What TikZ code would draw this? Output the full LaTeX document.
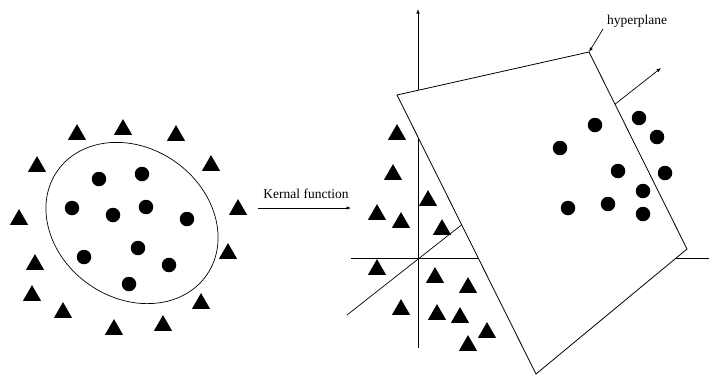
\documentclass[tikz,border=0pt]{standalone}
\usepackage{fontspec}
\setmainfont{Liberation Serif}
\usepackage{tikz}
\usetikzlibrary{arrows.meta,positioning,shapes.geometric}

\begin{document}
\begin{tikzpicture}[
  x=1pt,y=-1pt,
  dot/.style={circle,fill=black,inner sep=0pt,minimum size=14.5pt},
  tri/.style={regular polygon,regular polygon sides=3,fill=black,
              inner sep=0pt,minimum size=21pt,yshift=-2.6pt},
  lbl/.style={inner sep=1pt,font=\fontsize{13.5}{15}\selectfont},
  flow/.style={-{Latex[length=4.5pt,width=3.5pt]},line width=0.7pt},
  axis/.style={line width=0.8pt}
]
\useasboundingbox (0,0) rectangle (709,376);

% input space
\node[draw,ellipse,line width=0.7pt,minimum width=182pt,minimum height=150pt,
      rotate=-35] (blob) at (132,223) {};
\foreach \x/\y [count=\i] in {99/179,142/174,72/208,113/215,146/207,
    187/219,138/248,84/257,169/265,129/284}
  \node[dot] (ldot\i) at (\x,\y) {};
\foreach \x/\y [count=\i] in {77/132,123/127,176/133,37/164,211/163,
    19/217,238/207,35/262,228/251,32/293,63/310,201/301,114/327,163/323}
  \node[tri] (ltri\i) at (\x,\y) {};

% mapping
\node[lbl] (kf) at (306,194) {Kernal function};
\coordinate (kfa) at (258,208);
\coordinate (kfb) at (351,208);
\draw[flow] (kfa) -- (kfb);

% feature space axes
\coordinate (o) at (418,258);
\coordinate (ytop) at (418,9);
\coordinate (ybot) at (418,348);
\coordinate (xl) at (351,258);
\coordinate (xr) at (709,258);
\coordinate (zl) at (347,315);
\coordinate (zr) at (661,68);
\draw[flow] (ybot) -- (ytop);
\draw[axis] (xl) -- (xr);
\draw[flow] (zl) -- (zr);

% hyperplane
\coordinate (ptl) at (397,95);
\coordinate (ptr) at (589,52);
\coordinate (pr) at (687,249);
\coordinate (pb) at (536,374);
\draw[axis,fill=white] (ptl) -- (ptr) -- (pr) -- (pb) -- cycle;
\node[lbl] (hyp) at (637,21) {hyperplane};
\coordinate (hypa) at (603,29);
\draw[flow] (hypa) -- (ptr);

\foreach \x/\y [count=\i] in {595/125,639/118,657/137,560/148,618/171,
    665/173,643/191,568/208,608/204,643/214}
  \node[dot] (rdot\i) at (\x,\y) {};
\foreach \x/\y [count=\i] in {397/132,393/172,428/198,377/212,401/220,
    442/227,377/267,435/275,468/285,401/307,437/312,460/315,487/330,468/343}
  \node[tri] (rtri\i) at (\x,\y) {};
\end{tikzpicture}
\end{document}
